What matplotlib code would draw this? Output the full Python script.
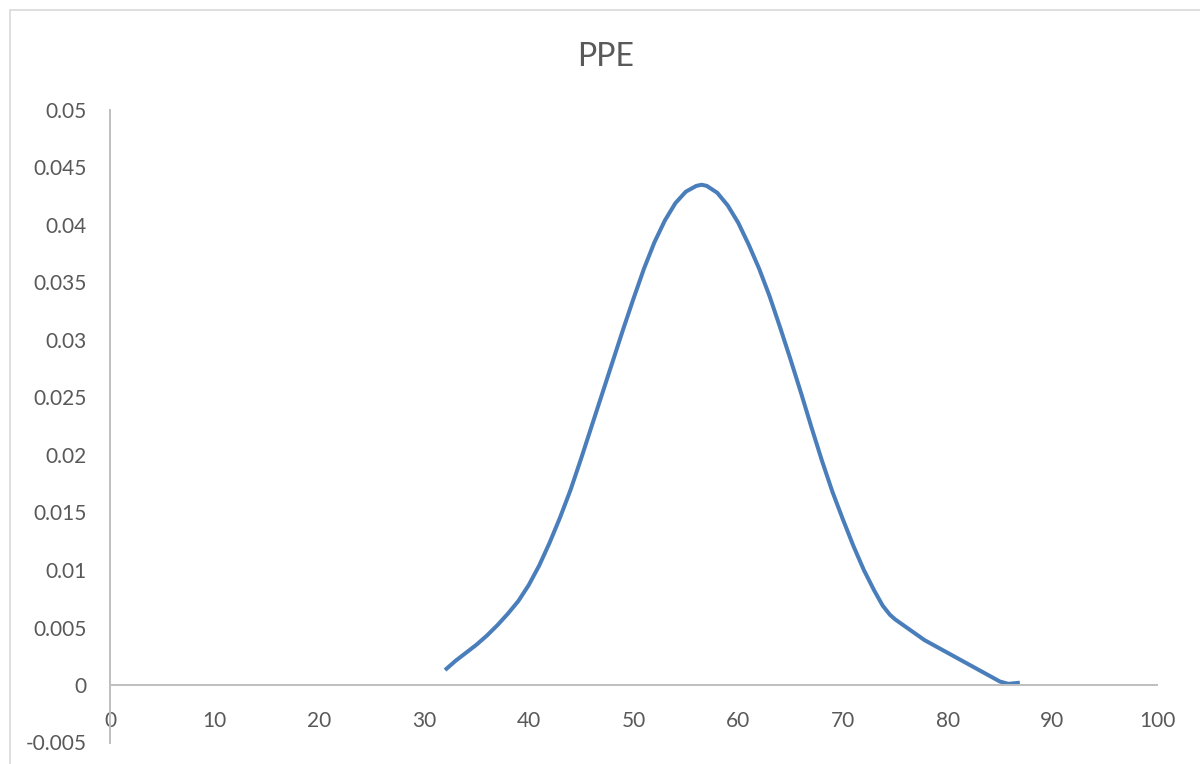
import matplotlib
matplotlib.use("Agg")
import matplotlib.pyplot as plt
from matplotlib.patches import Rectangle

# values
x_vals = [32, 33, 34, 35, 36, 37, 38, 39, 40, 41, 42, 43, 44, 45, 46, 47, 48,
          49, 50, 51, 52, 53, 54, 55, 56, 56.5, 57, 58, 59, 60, 61, 62, 63,
          64, 65, 66, 67, 68, 69, 70, 71, 72, 73, 73.8, 74.5, 75, 77.8, 81.2,
          85, 85.8, 86.9]
y_vals = [0.0013, 0.0021, 0.0028, 0.0035, 0.0043, 0.0052, 0.0062, 0.0073,
          0.0087, 0.0104, 0.0124, 0.0146, 0.0170, 0.0197, 0.0225, 0.0253,
          0.0281, 0.0309, 0.0336, 0.0362, 0.0385, 0.0404, 0.0419, 0.0429,
          0.0434, 0.0435, 0.0434, 0.0428, 0.0417, 0.0402, 0.0383, 0.0362,
          0.0338, 0.0311, 0.0283, 0.0254, 0.0224, 0.0195, 0.0168, 0.0144,
          0.0121, 0.0100, 0.0082, 0.0069, 0.0061, 0.0057, 0.0039, 0.0022,
          0.0003, 0.0001, 0.0002]

x_ticks = list(range(0, 101, 10))
y_ticks = [-0.005, 0, 0.005, 0.01, 0.015, 0.02, 0.025, 0.03, 0.035, 0.04, 0.045, 0.05]
y_labels = ["-0.005", "0", "0.005", "0.01", "0.015", "0.02", "0.025", "0.03",
            "0.035", "0.04", "0.045", "0.05"]

plt.rcParams['font.family'] = ['Lato', 'DejaVu Sans']

fig = plt.figure(figsize=(12, 7.64), dpi=100)
ax = fig.add_axes([110 / 1200, (764 - 742.5) / 764, (1157 - 110) / 1200, (742.5 - 110) / 764])

ax.plot(x_vals, y_vals, color='#4a7ebb', linewidth=2.9,
        solid_capstyle='butt', solid_joinstyle='round')

ax.set_xlim(0, 100)
ax.set_ylim(-0.005, 0.05)
ax.set_xticks(x_ticks)
ax.set_xticklabels([str(v) for v in x_ticks])
ax.set_yticks(y_ticks)
ax.set_yticklabels(y_labels)

grey = '#bfbfbf'
for s in ['top', 'right']:
    ax.spines[s].set_visible(False)
ax.spines['bottom'].set_position(('data', 0))
ax.spines['left'].set_position(('data', 0))
ax.spines['bottom'].set_color(grey)
ax.spines['left'].set_color(grey)
ax.spines['bottom'].set_linewidth(1.4)
ax.spines['left'].set_linewidth(1.4)

ax.tick_params(axis='x', length=0, pad=19, labelsize=15, labelcolor='#595959')
ax.tick_params(axis='y', length=0, pad=17, labelsize=15, labelcolor='#595959')

fig.text(606 / 1200, 1 - 57 / 764, "PPE", ha='center', va='center',
         fontsize=23, color='#595959')

# outer chart border
fig.patches.append(Rectangle((9.5 / 1200, -0.01), 1.0, 1 - 10 / 764 + 0.01,
                             transform=fig.transFigure, fill=False,
                             edgecolor='#d9d9d9', linewidth=1.2))

fig.savefig("out.png", dpi=100)
